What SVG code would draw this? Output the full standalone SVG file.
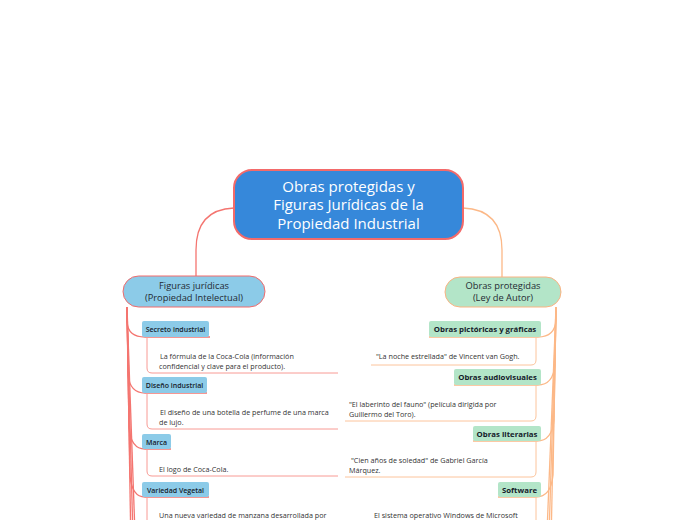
<svg xmlns="http://www.w3.org/2000/svg" width="697" height="520" viewBox="0 0 697 520">
<style>
text{font-family:"Open Sans","Liberation Sans",sans-serif;}
.ct{fill:#ffffff;font-size:15px;text-anchor:middle;}
.mt{fill:#1f2a33;font-size:9.3px;text-anchor:middle;}
.lb{fill:#8ccbe8;}
.rb{fill:#b3e5c8;}
.lt{fill:#15202a;font-size:7px;font-weight:600;text-anchor:middle;}
.rt{fill:#15202a;font-size:7.8px;font-weight:bold;text-anchor:middle;}
.st{fill:#333333;font-size:7.2px;}
.lc{fill:none;stroke:#f47570;stroke-width:1.3;}
.ls{fill:none;stroke:#f89a94;stroke-width:1;}
.rc{fill:none;stroke:#fcb887;stroke-width:1.3;}
.rs{fill:none;stroke:#fcc49c;stroke-width:1;}
</style>
<rect width="697" height="520" fill="#ffffff"/>
<g id="connectors">
<path class="lc" d="M234,208 C210,209 196,222 196,250 L196,276"/>
<path class="rc" d="M463,208 C488,209 502,222 502,250 L502,277"/>
<path class="lc" d="M127,307 L127,322 Q128,337 145,337 L210,337"/>
<path class="lc" d="M127,307 L128,375 Q130,393 145,393 L207,393"/>
<path class="lc" d="M127,307 L129,428 Q131,449 145,449 L171,449"/>
<path class="lc" d="M127,307 L130,476 Q132,497 145,497 L209,497"/>
<path class="lc" d="M127,307 L130.5,520"/>
<path class="lc" d="M127,307 L132.5,520"/>
<path class="lc" d="M127,307 L134.5,520"/>
<path class="ls" d="M147,337 L147,368 Q147,373 152,373 L338,373"/>
<path class="ls" d="M147,393 L147,424 Q147,429 152,429 L338,429"/>
<path class="ls" d="M147,449 L147,471 Q147,476 152,476 L338,476"/>
<path class="ls" d="M147,497 L147,520"/>
<path class="rc" d="M556,307 L556,320 Q555,337 538,337 L429,337"/>
<path class="rc" d="M556,307 L555,365 Q553,385 538,385 L454,385"/>
<path class="rc" d="M556,307 L554,420 Q552,441 537,441 L473,441"/>
<path class="rc" d="M556,307 L553,475 Q551,497 536,497 L498,497"/>
<path class="rc" d="M556,307 L551.5,520"/>
<path class="rc" d="M556,307 L549.5,520"/>
<path class="rc" d="M556,307 L547.5,520"/>
<path class="rs" d="M536,337 L536,360 Q536,365 531,365 L371,365"/>
<path class="rs" d="M536,385 L536,416 Q536,421 531,421 L345,421"/>
<path class="rs" d="M536,441 L536,472 Q536,477 531,477 L345,477"/>
<path class="rs" d="M536,497 L536,520"/>
</g>
<g id="central">
<rect x="234" y="170" width="229" height="69" rx="18" fill="#3688da" stroke="#f36a6a" stroke-width="2"/>
<text class="ct" x="348.5" y="192">Obras protegidas y</text>
<text class="ct" x="348.5" y="210">Figuras Jurídicas de la</text>
<text class="ct" x="348.5" y="229">Propiedad Industrial</text>
</g>
<g id="figuras">
<rect x="123" y="276" width="142" height="31" rx="15.5" fill="#8ccbe8" stroke="#f36a6a" stroke-width="1"/>
<text class="mt" x="194" y="289">Figuras jurídicas</text>
<text class="mt" x="194" y="301">(Propiedad Intelectual)</text>
</g>
<g id="obras">
<rect x="445" y="277" width="116" height="30" rx="15" fill="#b3e5c8" stroke="#fbb382" stroke-width="1"/>
<text class="mt" x="503" y="289">Obras protegidas</text>
<text class="mt" x="503" y="301">(Ley de Autor)</text>
</g>
<g id="secreto">
<rect class="lb" x="142" y="321" width="67" height="16" rx="2"/>
<text class="lt" x="175.5" y="332">Secreto industrial</text>
</g>
<g id="secreto-ej">
<text class="st" x="160" y="359">La fórmula de la Coca-Cola (información</text>
<text class="st" x="159" y="369">confidencial y clave para el producto).</text>
</g>
<g id="diseno">
<rect class="lb" x="142" y="377" width="65" height="16" rx="2"/>
<text class="lt" x="174.5" y="388">Diseño industrial</text>
</g>
<g id="diseno-ej">
<text class="st" x="160" y="415">El diseño de una botella de perfume de una marca</text>
<text class="st" x="159" y="425">de lujo.</text>
</g>
<g id="marca">
<rect class="lb" x="142" y="434" width="29" height="15" rx="2"/>
<text class="lt" x="156.5" y="444.5">Marca</text>
</g>
<g id="marca-ej">
<text class="st" x="159" y="472">El logo de Coca-Cola.</text>
</g>
<g id="variedad">
<rect class="lb" x="142" y="482" width="67" height="15" rx="2"/>
<text class="lt" x="175.5" y="492.5">Variedad Vegetal</text>
</g>
<g id="variedad-ej">
<text class="st" x="159" y="518">Una nueva variedad de manzana desarrollada por</text>
</g>
<g id="pictoricas">
<rect class="rb" x="429" y="321" width="112" height="16" rx="2"/>
<text class="rt" x="485" y="332">Obras pictóricas y gráficas</text>
</g>
<g id="pictoricas-ej">
<text class="st" x="376" y="359">"La noche estrellada" de Vincent van Gogh.</text>
</g>
<g id="audiovisuales">
<rect class="rb" x="454" y="369" width="87" height="16" rx="2"/>
<text class="rt" x="497.5" y="380">Obras audiovisuales</text>
</g>
<g id="audiovisuales-ej">
<text class="st" x="349" y="407">"El laberinto del fauno" (película dirigida por</text>
<text class="st" x="349" y="417">Guillermo del Toro).</text>
</g>
<g id="literarias">
<rect class="rb" x="473" y="426" width="68" height="15" rx="2"/>
<text class="rt" x="507" y="436.5">Obras literarias</text>
</g>
<g id="literarias-ej">
<text class="st" x="351" y="463">"Cien años de soledad" de Gabriel García</text>
<text class="st" x="349" y="473">Márquez.</text>
</g>
<g id="software">
<rect class="rb" x="498" y="482" width="43" height="15" rx="2"/>
<text class="rt" x="519.5" y="492.5">Software</text>
</g>
<g id="software-ej">
<text class="st" x="374" y="518">El sistema operativo Windows de Microsoft</text>
</g>
</svg>
